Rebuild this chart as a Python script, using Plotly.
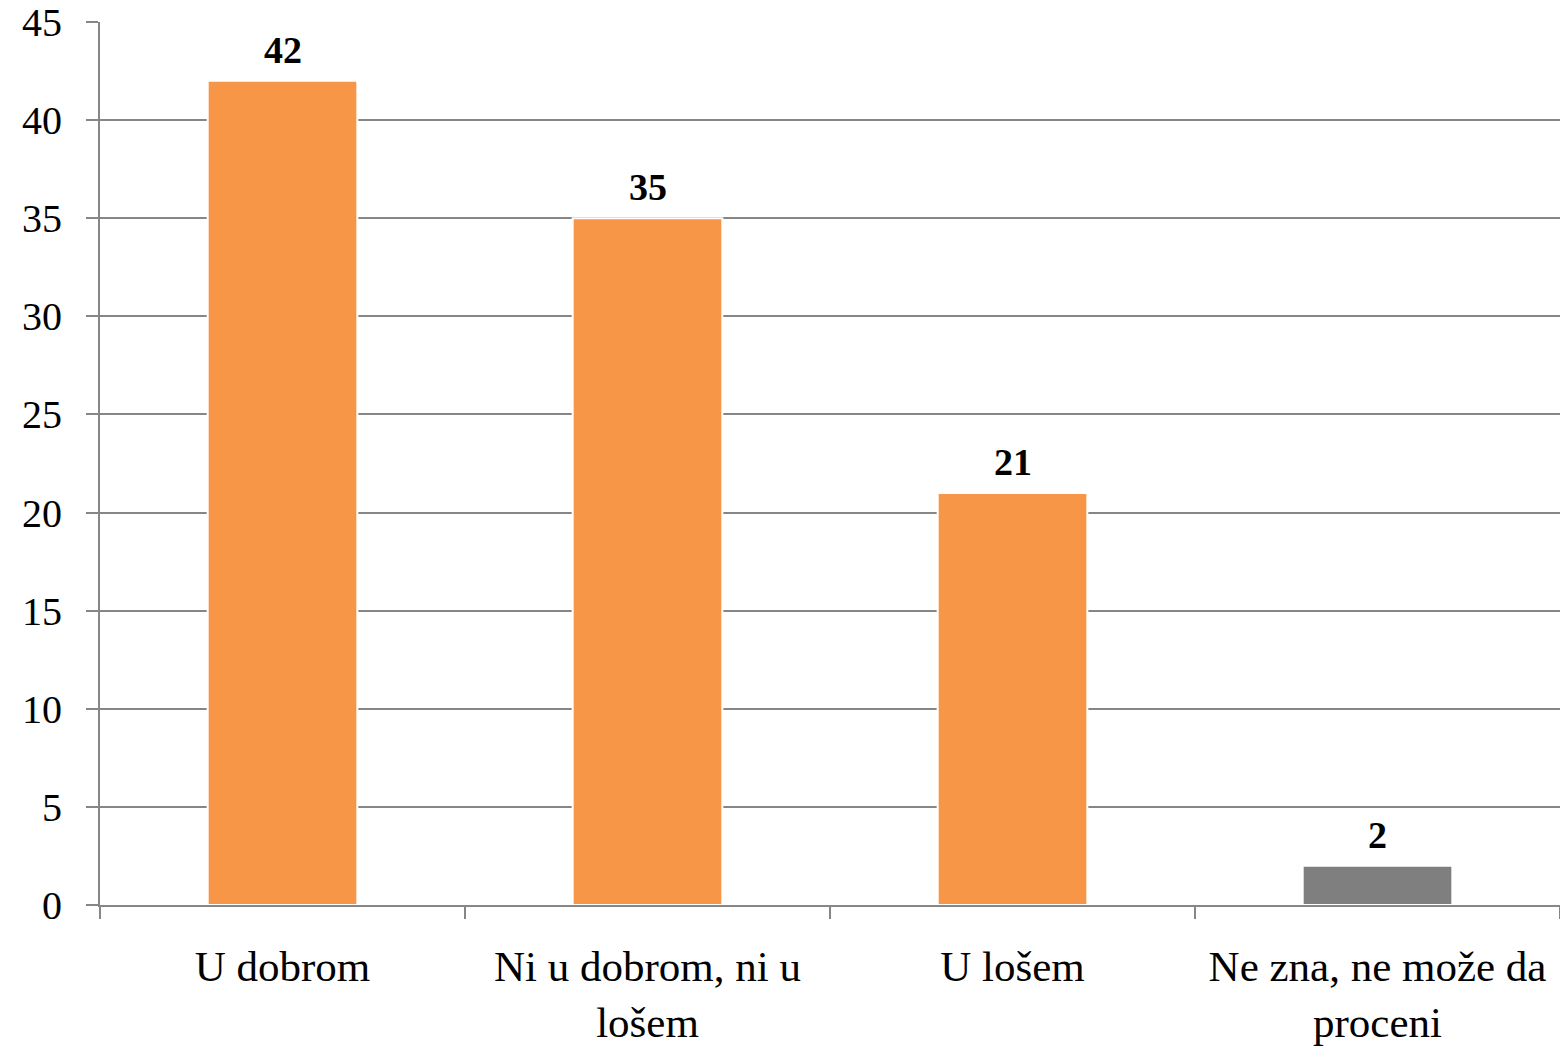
import plotly.graph_objects as go

categories = ["U dobrom", "Ni u dobrom, ni u<br>lošem", "U lošem", "Ne zna, ne može da<br>proceni"]
values = [42, 35, 21, 2]
bar_colors = ["#F79646", "#F79646", "#F79646", "#7F7F7F"]
y_ticks = [0, 5, 10, 15, 20, 25, 30, 35, 40, 45]

FONT = "Liberation Serif"

fig = go.Figure()
fig.add_trace(go.Bar(
    x=categories,
    y=values,
    marker=dict(color=bar_colors, line=dict(color="#FFFFFF", width=2)),
    width=0.41,
    cliponaxis=False,
))

for c, v in zip(categories, values):
    fig.add_annotation(
        x=c, y=v, text=str(v), showarrow=False,
        yanchor="bottom", yshift=8,
        font=dict(family=FONT, size=38, color="#000000", weight="bold"),
    )

fig.update_layout(
    width=1560, height=1048,
    margin=dict(l=100, r=0, t=22, b=143),
    paper_bgcolor="#FFFFFF",
    plot_bgcolor="#FFFFFF",
    showlegend=False,
    font=dict(family=FONT, color="#000000"),
)
fig.update_xaxes(
    type="category",
    automargin=False,
    showgrid=False,
    showline=True, linecolor="#868686", linewidth=2,
    ticks="outside", tickson="boundaries", ticklen=12, tickcolor="#868686", tickwidth=2,
    tickfont=dict(family=FONT, size=43, color="#000000"),
    ticklabelstandoff=22,
    ticklabeloverflow="allow",
)
fig.update_yaxes(
    range=[0, 45],
    automargin=False,
    tickvals=y_ticks,
    showgrid=True, gridcolor="#868686", gridwidth=2,
    showline=True, linecolor="#868686", linewidth=2,
    ticks="outside", ticklen=12, tickcolor="#868686", tickwidth=2,
    tickfont=dict(family=FONT, size=40, color="#000000"),
    ticklabelstandoff=16,
    ticklabeloverflow="allow",
    zeroline=False,
)

fig.write_html(
    "out.html",
    config={"displayModeBar": False},
    post_script="document.body.style.margin='0';document.body.style.overflow='hidden';",
)
